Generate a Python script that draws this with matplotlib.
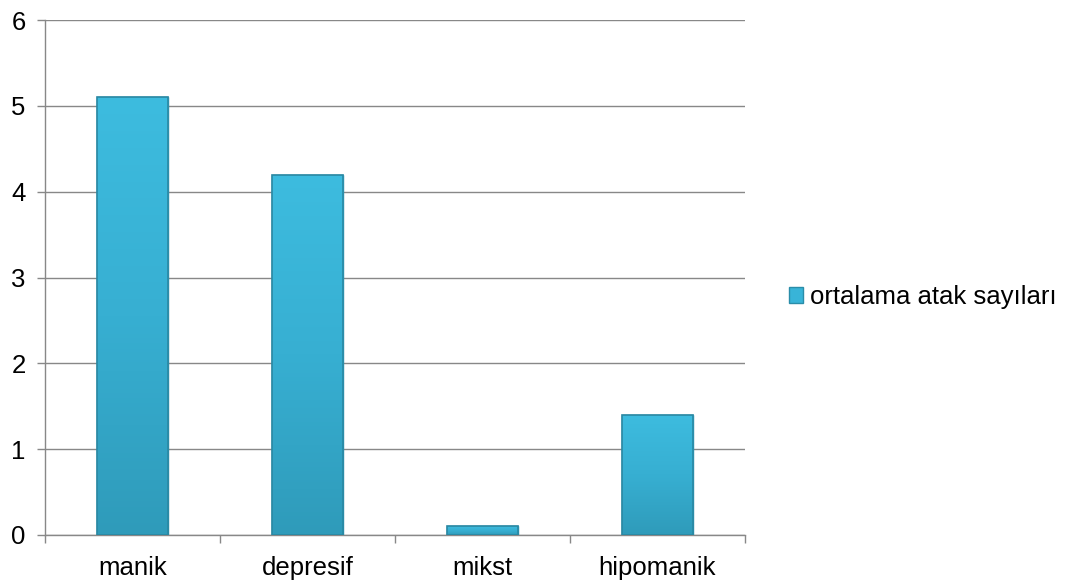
import matplotlib
matplotlib.use("Agg")
import matplotlib.pyplot as plt
import numpy as np
from matplotlib.patches import Patch
from matplotlib.colors import LinearSegmentedColormap

categories = ["manik", "depresif", "mikst", "hipomanik"]
values = [5.1, 4.2, 0.1, 1.4]
series_name = "ortalama atak sayıları"
yticks = [0, 1, 2, 3, 4, 5, 6]

plt.rcParams['font.family'] = ['Liberation Sans', 'DejaVu Sans']
FS = 18.5

fig = plt.figure(figsize=(10.7, 5.85), dpi=100)
ax = fig.add_axes([45/1070, 1-535/585, 700/1070, 515/585])

x = np.arange(len(categories))
bars = ax.bar(x, values, width=0.41, color='#38B4D8', edgecolor='#2A8DA9', linewidth=1.0, zorder=3)

# gradient fill clipped to each bar
grad = np.linspace(0, 1, 256).reshape(-1, 1)
cmap = LinearSegmentedColormap.from_list('g', ['#2F9BBA', '#37AFD2', '#3DBCDF'])
for b in bars:
    bx, by = b.get_x(), b.get_y()
    w, h = b.get_width(), b.get_height()
    im = ax.imshow(grad, extent=[bx, bx + w, by, by + h], origin='lower', cmap=cmap,
                   aspect='auto', zorder=3.5)
    im.set_clip_path(b)
    ax.add_patch(plt.Rectangle((bx, by), w, h, fill=False, edgecolor='#2A88A3', linewidth=1.2, zorder=4))

ax.set_xlim(-0.5, len(categories) - 0.5)
ax.set_ylim(0, 6)
ax.set_yticks(yticks)
ax.set_xticks(x)
ax.set_xticklabels(categories, fontsize=FS)
ax.set_xticks(np.arange(-0.5, len(categories)), minor=True)
ax.tick_params(axis='x', which='major', length=0, pad=15)
ax.tick_params(axis='x', which='minor', length=6, color='#888888', width=1)
ax.tick_params(axis='y', length=6, color='#888888', width=1, labelsize=FS, pad=8)
ax.yaxis.grid(True, color='#888888', linewidth=1, zorder=0)
ax.set_axisbelow(True)
for s in ['top', 'right']:
    ax.spines[s].set_visible(False)
for s in ['left', 'bottom']:
    ax.spines[s].set_color('#888888')
    ax.spines[s].set_linewidth(1)

handle = Patch(facecolor='#38B4D8', edgecolor='#2A8DA9')
fig.legend([handle], [series_name], loc='center left', bbox_to_anchor=(789/1070, 1-297/585),
           frameon=False, fontsize=FS, handlelength=0.55, handleheight=0.55, handletextpad=0.25,
           borderaxespad=0, borderpad=0)

fig.savefig("out.png", dpi=100)
